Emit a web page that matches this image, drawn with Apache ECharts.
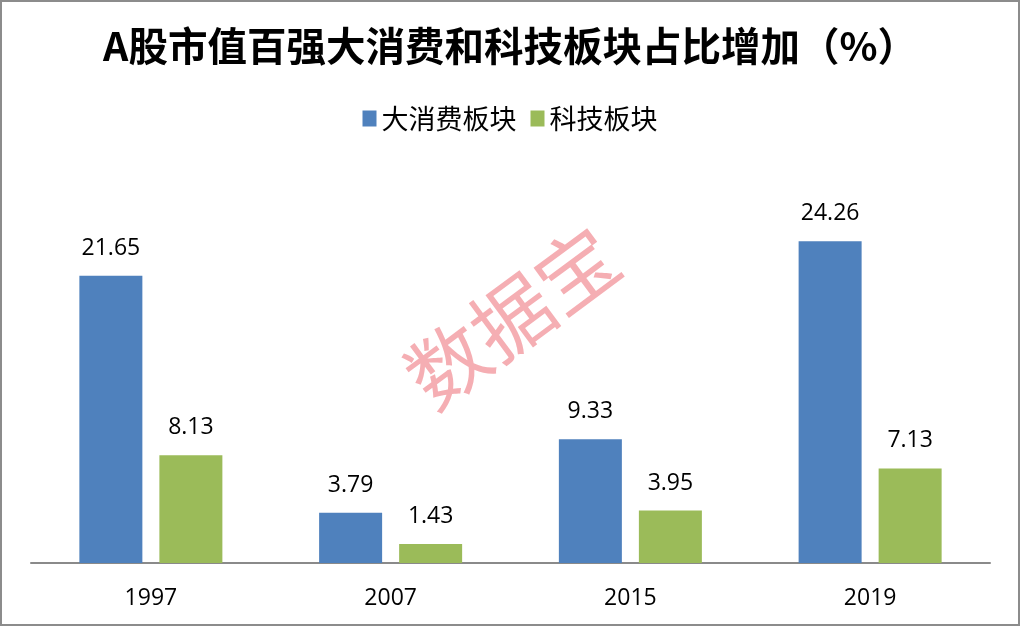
<!DOCTYPE html>
<html>
<head>
<meta charset="utf-8">
<script src="https://cdn.jsdelivr.net/npm/echarts@6/dist/echarts.min.js"></script>
<style>html,body{margin:0;padding:0;background:#fff;}#c{width:1020px;height:626px;}</style>
</head>
<body>
<div id="c"></div>
<script>
const categories = ['1997', '2007', '2015', '2019'];
const consumerValues = [21.65, 3.79, 9.33, 24.26];
const techValues = [8.13, 1.43, 3.95, 7.13];
const seriesNames = ['大消费板块', '科技板块'];
const titleText = 'A股市值百强大消费和科技板块占比增加（%）';
const watermarkText = '数据宝';

const chart = echarts.init(document.getElementById('c'));
const labelStyle = {
  show: true, position: 'top', distance: 16,
  fontFamily: 'Open Sans', fontSize: 23, color: '#000'
};
chart.setOption({
  backgroundColor: '#fff',
  animation: false,
  title: {
    text: titleText, left: 'center', top: 21,
    textStyle: { fontFamily: 'Noto Sans CJK SC', fontWeight: 'bold', fontSize: 39.5, color: '#000' }
  },
  legend: {
    top: 100, left: 'center', itemWidth: 14, itemHeight: 16, itemGap: 14,
    icon: 'rect',
    textStyle: { fontFamily: 'Noto Sans CJK SC', fontSize: 27, color: '#000' },
    data: seriesNames
  },
  grid: { left: 31, right: 30, top: 165, bottom: 63 },
  xAxis: {
    type: 'category', data: categories,
    axisLine: { lineStyle: { color: '#8a8a8a', width: 2 } },
    axisTick: { show: false },
    axisLabel: { fontFamily: 'Open Sans', fontSize: 23, color: '#000', margin: 24 }
  },
  yAxis: { type: 'value', min: 0, max: 30, show: false, splitLine: { show: false } },
  graphic: [
    { type: 'rect', z: 100, shape: { x: 1, y: 1, width: 1018, height: 624 },
      style: { fill: 'none', stroke: '#8c8c8c', lineWidth: 2 } },
    { type: 'text', z: -1, x: 512, y: 317, rotation: 36.5 * Math.PI / 180,
      style: { text: watermarkText, fontFamily: 'Noto Sans CJK SC', fontSize: 80,
        fill: 'rgba(238,120,128,0.6)', align: 'center', verticalAlign: 'middle' } }
  ],
  series: [
    { name: seriesNames[0], type: 'bar', data: consumerValues, barWidth: 63, barGap: '27%',
      itemStyle: { color: '#4f81bd' }, label: labelStyle },
    { name: seriesNames[1], type: 'bar', data: techValues, barWidth: 63,
      itemStyle: { color: '#9bbb59' }, label: labelStyle }
  ]
});
</script>
</body>
</html>
